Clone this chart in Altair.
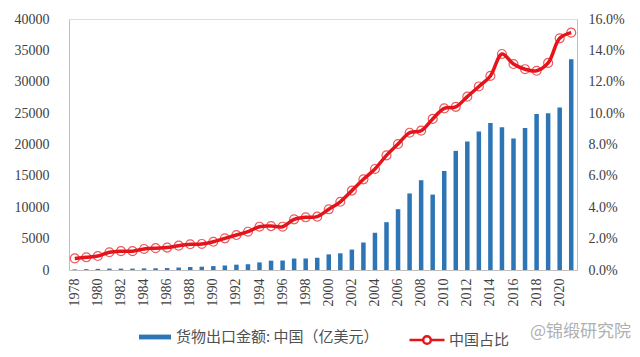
import altair as alt
import pandas as pd

years = [str(y) for y in range(1978, 2022)]
exports = [98, 137, 181, 220, 223, 222, 261, 274, 309, 394, 475, 525, 621, 719, 849, 917,
           1210, 1488, 1511, 1828, 1837, 1949, 2492, 2661, 3256, 4382, 5933, 7620, 9690,
           12201, 14307, 12016, 15778, 18984, 20487, 22090, 23423, 22735, 20976, 22633,
           24867, 24995, 25900, 33600]
share = [0.74, 0.81, 0.89, 1.13, 1.2, 1.2, 1.34, 1.39, 1.43, 1.55, 1.64, 1.66, 1.8, 2.02,
         2.23, 2.44, 2.76, 2.8, 2.76, 3.23, 3.36, 3.4, 3.87, 4.35, 5.06, 5.78, 6.44, 7.31,
         8.03, 8.75, 8.88, 9.63, 10.3, 10.4, 11.05, 11.7, 12.37, 13.77, 13.13, 12.8, 12.7,
         13.2, 14.77, 15.13]
share = [s / 100 for s in share]

bar_name = "货物出口金额: 中国（亿美元）"
line_name = "中国占比"
watermark = "@锦缎研究院"

df = pd.DataFrame({"year": years, "exports": exports, "share": share,
                   "bar": bar_name, "line": line_name})

BLUE = "#2e75b6"
RED = "#e5141b"
AXIS_FONT = "Liberation Serif"
CJK = "Noto Sans CJK SC"

xenc = alt.X("year:N", sort=years,
             scale=alt.Scale(type="band", paddingInner=0, paddingOuter=0),
             axis=alt.Axis(title=None, values=years[::2], labelAngle=270,
                           labelFont=AXIS_FONT, labelFontSize=14, labelColor="#404040",
                           labelPadding=8, ticks=False, domainColor="#bfbfbf"))

base = alt.Chart(df)

bars = base.mark_bar(size=4.5).encode(
    x=xenc,
    y=alt.Y("exports:Q", scale=alt.Scale(domain=[0, 40000]),
            axis=alt.Axis(title=None, values=list(range(0, 40001, 5000)), format="d",
                          grid=False, ticks=False, tickSize=0, labelPadding=20,
                          labelFont=AXIS_FONT, labelFontSize=14, labelColor="#404040",
                          domainColor="#bfbfbf", orient="left")),
    color=alt.Color("bar:N", scale=alt.Scale(domain=[bar_name], range=[BLUE]),
                    legend=alt.Legend(title=None, orient="none", legendX=70, legendY=302,
                                      padding=0, symbolType="M-1,-0.15H1V0.15H-1Z",
                                      symbolSize=1024, symbolStrokeWidth=0,
                                      labelFont=CJK, labelFontSize=15, labelColor="#505050",
                                      labelOffset=5, labelLimit=0)),
)

yr = alt.Y("share:Q", scale=alt.Scale(domain=[0, 0.16]),
           axis=alt.Axis(title=None, values=[i / 100 for i in range(0, 17, 2)], format=".1%",
                         grid=False, ticks=False, tickSize=0, labelPadding=11,
                         labelFont=AXIS_FONT, labelFontSize=14, labelColor="#404040",
                         domainColor="#bfbfbf", orient="right"))

line = base.mark_line(interpolate="catmull-rom", strokeWidth=3.5).encode(
    x=xenc, y=yr,
    stroke=alt.Stroke("line:N", scale=alt.Scale(domain=[line_name], range=[RED]),
                      legend=alt.Legend(title=None, orient="none", legendX=339, legendY=302,
                                        padding=0,
                                        symbolType="M-1,0H-0.22M0.22,0H1M0.22,0A0.22,0.22,0,1,1,-0.22,0A0.22,0.22,0,1,1,0.22,0",
                                        symbolSize=1225, symbolStrokeWidth=2.5,
                                        symbolFillColor="white",
                                        labelFont=CJK, labelFontSize=15, labelColor="#505050",
                                        labelOffset=3, labelLimit=0)),
)

points = base.mark_point(shape="circle", size=80, filled=False, strokeWidth=1.2,
                         color=RED).encode(x=xenc, y=yr)

wm = alt.Chart(pd.DataFrame({"t": [watermark]})).mark_text(
    align="left", baseline="middle", font=CJK, fontSize=17, color="#b0b0b0"
).encode(text="t:N", x=alt.value(461), y=alt.value(313))

right = alt.layer(line, points)
chart = alt.layer(bars, right, wm).resolve_scale(
    y="independent", color="independent"
).properties(
    width=508, height=251,
    autosize=alt.AutoSizeParams(type="none"),
    padding={"left": 61, "top": 11, "right": 55, "bottom": 80},
).configure_view(stroke=None).configure(background="white")

chart.save("out.html", embed_options={"renderer": "svg", "actions": False})
